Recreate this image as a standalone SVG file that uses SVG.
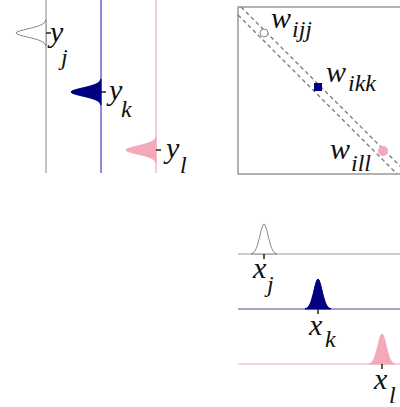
<svg xmlns="http://www.w3.org/2000/svg" width="400" height="407" viewBox="0 0 400 407">
<style>
.lbl{font-family:"Liberation Serif","Times New Roman",serif;font-style:italic;fill:#111}
.m{font-size:30px}
.s{font-size:24px}
.tick{stroke:#222;stroke-width:1.5}
.dash{stroke:#777;stroke-width:1.3;stroke-dasharray:4 3;fill:none}
</style>
<defs>
<path id="g" d="M-13,0 L-13,-0.3 -12,-0.55 -11,-1 -10,-1.9 -9,-3.2 -8,-5.1 -7,-7.7 -6,-10.9 -5,-14.6 -4,-18.8 -3,-22.9 -2,-26.5 -1,-29.1 0,-30 1,-29.1 2,-26.5 3,-22.9 4,-18.8 5,-14.6 6,-10.9 7,-7.7 8,-5.1 9,-3.2 10,-1.9 11,-1 12,-0.55 13,-0.3 13,0 Z"/>
</defs>
<rect width="400" height="407" fill="#fff"/>

<g id="y-panel">
<g id="yj">
<line x1="46" y1="0" x2="46" y2="173" stroke="#999" stroke-width="1.2"/>
<use href="#g" transform="translate(46,33) rotate(-90)" fill="#fff" stroke="#888" stroke-width="1"/>
<line class="tick" x1="46" y1="33" x2="51" y2="33"/>
<text class="lbl m" x="50" y="42">y</text>
<text class="lbl s" x="61" y="65">j</text>
</g>
<g id="yk">
<line x1="101" y1="0" x2="101" y2="173" stroke="#4040c0" stroke-width="1.2"/>
<use href="#g" transform="translate(101,92) rotate(-90)" fill="#000080" stroke="#000080" stroke-width="1"/>
<line class="tick" x1="101" y1="92" x2="106" y2="92"/>
<text class="lbl m" x="109" y="100">y</text>
<text class="lbl s" x="121" y="117">k</text>
</g>
<g id="yl">
<line x1="156" y1="0" x2="156" y2="173" stroke="#f0a8b8" stroke-width="1.2"/>
<use href="#g" transform="translate(156,150) rotate(-90)" fill="#f5a8b8" stroke="#f5a8b8" stroke-width="1"/>
<line class="tick" x1="156" y1="150" x2="161" y2="150"/>
<text class="lbl m" x="166" y="158">y</text>
<text class="lbl s" x="180" y="173">l</text>
</g>
</g>

<g id="w-matrix">
<rect x="238" y="7" width="170" height="167" fill="none" stroke="#999" stroke-width="1.5"/>
<line class="dash" x1="241" y1="7" x2="408" y2="174"/>
<line class="dash" x1="238" y1="15" x2="397" y2="174"/>
<g id="wijj">
<circle cx="264" cy="33" r="4" fill="#fff" stroke="#888" stroke-width="1"/>
<text class="lbl m" x="271" y="28">w</text>
<text class="lbl s" x="292" y="37">ijj</text>
</g>
<g id="wikk">
<rect x="314" y="83" width="8" height="8" fill="#000080"/>
<text class="lbl m" x="326" y="82">w</text>
<text class="lbl s" x="348" y="91">ikk</text>
</g>
<g id="will">
<circle cx="383" cy="151" r="5" fill="#f5a8b8"/>
<text class="lbl m" x="330" y="159">w</text>
<text class="lbl s" x="351" y="171">ill</text>
</g>
</g>

<g id="x-panel">
<g id="xj">
<line x1="238" y1="254" x2="400" y2="254" stroke="#999" stroke-width="1.2"/>
<use href="#g" transform="translate(264,254)" fill="#fff" stroke="#888" stroke-width="1"/>
<line class="tick" x1="264" y1="254" x2="264" y2="259"/>
<text class="lbl m" x="253" y="278">x</text>
<text class="lbl s" x="267" y="292">j</text>
</g>
<g id="xk">
<line x1="238" y1="309" x2="400" y2="309" stroke="#4a4a8a" stroke-width="1.2"/>
<use href="#g" transform="translate(318,309)" fill="#000080" stroke="#000080" stroke-width="1"/>
<line class="tick" x1="318" y1="309" x2="318" y2="314"/>
<text class="lbl m" x="309" y="335">x</text>
<text class="lbl s" x="325" y="347">k</text>
</g>
<g id="xl">
<line x1="238" y1="364" x2="400" y2="364" stroke="#f0a8b8" stroke-width="1.2"/>
<use href="#g" transform="translate(382,364)" fill="#f5a8b8" stroke="#f5a8b8" stroke-width="1"/>
<line class="tick" x1="382" y1="364" x2="382" y2="369"/>
<text class="lbl m" x="374" y="389">x</text>
<text class="lbl s" x="389" y="403">l</text>
</g>
</g>
</svg>
